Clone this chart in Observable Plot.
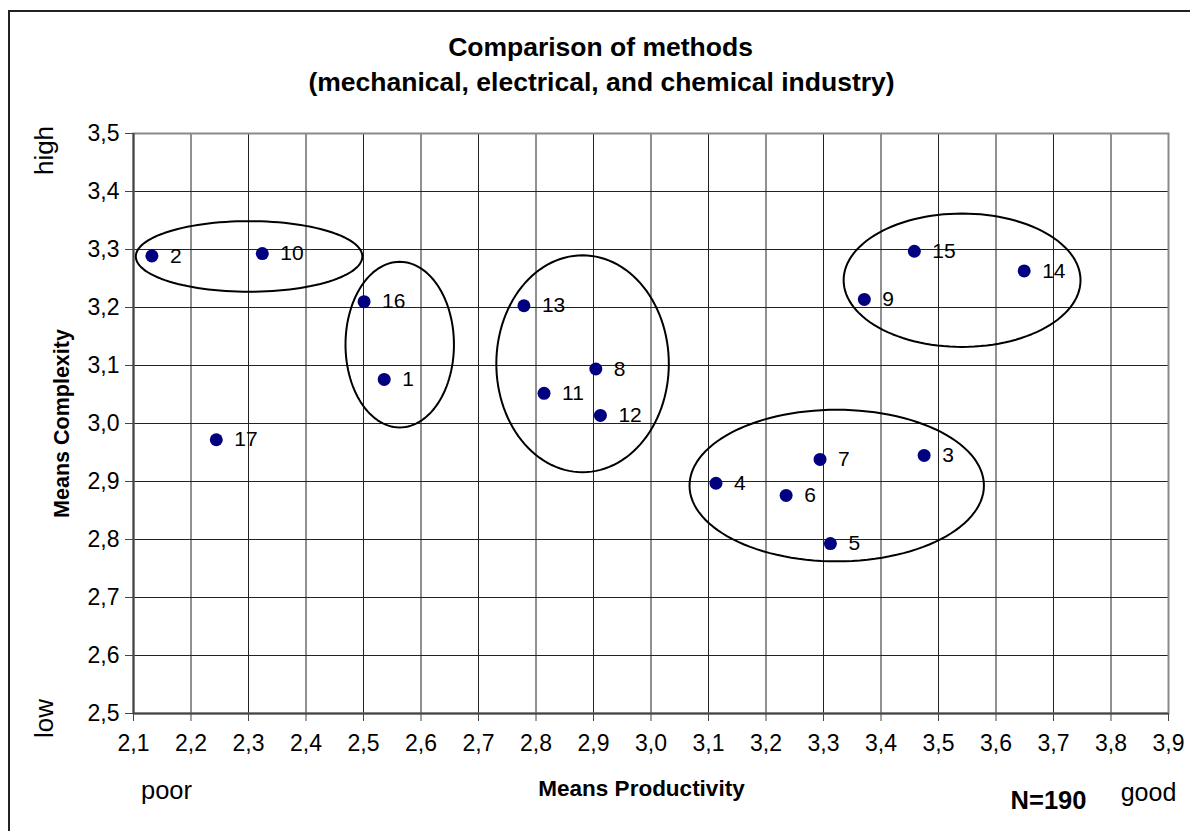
<!DOCTYPE html>
<html>
<head>
<meta charset="utf-8">
<script src="https://cdn.jsdelivr.net/npm/d3@7"></script>
<script src="https://cdn.jsdelivr.net/npm/@observablehq/plot@0.6"></script>
<style>
  html, body { margin: 0; padding: 0; background: #fff; }
  #wrap { position: relative; width: 1190px; height: 831px; overflow: hidden; }
  #border { position: absolute; left: 8px; top: 10px; width: 1200px; height: 840px;
            border-left: 2px solid #222; border-top: 2px solid #222; }
  #chart { position: absolute; left: 0; top: 0; }
  #chart g[aria-label="x-axis tick label"] text, #chart g[aria-label="y-axis tick label"] text { font-size: 23px !important; }
</style>
</head>
<body>
<div id="wrap"><div id="border"></div><div id="chart"></div></div>
<script>
// ---- data ----
const methods      = [1, 2, 3, 4, 5, 6, 7, 8, 9, 10, 11, 12, 13, 14, 15, 16, 17];
const productivity = [2.536, 2.132, 3.475, 3.113, 3.312, 3.235, 3.294, 2.904, 3.371, 2.324, 2.814, 2.912, 2.779, 3.649, 3.458, 2.501, 2.244];
const complexity   = [3.076, 3.289, 2.945, 2.897, 2.793, 2.876, 2.938, 3.094, 3.214, 3.293, 3.052, 3.014, 3.203, 3.263, 3.297, 3.210, 2.972];

// cluster ellipses (centre and half-axes in data units)
const clusterCx = [2.301, 2.563, 2.881, 3.541, 3.323];
const clusterCy = [3.288, 3.136, 3.103, 3.247, 2.893];
const clusterRx = [0.197, 0.0943, 0.150, 0.206, 0.256];
const clusterRy = [0.0609, 0.1428, 0.187, 0.115, 0.1307];

const xTicks = [2.1, 2.2, 2.3, 2.4, 2.5, 2.6, 2.7, 2.8, 2.9, 3.0, 3.1, 3.2, 3.3, 3.4, 3.5, 3.6, 3.7, 3.8, 3.9];
const yTicks = [2.5, 2.6, 2.7, 2.8, 2.9, 3.0, 3.1, 3.2, 3.3, 3.4, 3.5];

const titleLines = ["Comparison of methods", "(mechanical, electrical, and chemical industry)"];
const xTitle = "Means Productivity";
const yTitle = "Means Complexity";
const sampleNote = "N=190";

// ---- build tables ----
const points = methods.map((m, i) => ({id: m, x: productivity[i], y: complexity[i]}));
const ellipsePts = [];
clusterCx.forEach((cx, k) => {
  for (let j = 0; j < 120; j++) {
    const t = (j / 120) * 2 * Math.PI;
    ellipsePts.push({g: k, x: cx + clusterRx[k] * Math.cos(t), y: clusterCy[k] + clusterRy[k] * Math.sin(t)});
  }
});
const fmt = d => d.toFixed(1).replace(".", ",");
const font = "'Liberation Sans', Arial, sans-serif";
const ann = (txt, dx, dy, opts) => Plot.text([txt], Object.assign(
  {frameAnchor: "top-left", dx, dy, textAnchor: "middle", lineAnchor: "middle", fill: "#000"}, opts));

const chart = Plot.plot({
  width: 1190, height: 831,
  marginLeft: 133, marginRight: 22, marginTop: 133, marginBottom: 118,
  style: {fontFamily: font, fontSize: "22px", color: "#000", background: "transparent", overflow: "visible"},
  x: {domain: [2.1, 3.9], label: null},
  y: {domain: [2.5, 3.5], label: null},
  marks: [
    Plot.gridX(xTicks, {stroke: "#222", strokeOpacity: 1, strokeWidth: 1}),
    Plot.gridY(yTicks, {stroke: "#222", strokeOpacity: 1, strokeWidth: 1}),
    Plot.frame({stroke: "#8a8a8a", strokeWidth: 2}),
    Plot.ruleX([2.1], {stroke: "#444", strokeWidth: 2}),
    Plot.ruleY([2.5], {stroke: "#444", strokeWidth: 2}),
    Plot.axisX(xTicks, {tickSize: 8, tickPadding: 13, tickFormat: fmt, label: null, fontSize: 23, stroke: "#444"}),
    Plot.axisY(yTicks, {tickSize: 8, tickPadding: 6, tickFormat: fmt, label: null, fontSize: 23, stroke: "#444"}),
    Plot.line(ellipsePts, {x: "x", y: "y", z: "g", curve: "linear-closed", stroke: "#000", strokeWidth: 2}),
    Plot.dot(points, {x: "x", y: "y", r: 6.5, fill: "#000080", stroke: "none"}),
    Plot.text(points, {x: "x", y: "y", text: "id", dx: 18, textAnchor: "start", fontSize: 21, fill: "#000"}),
    // titles and annotations
    ann(titleLines[0], 467, -86, {fontSize: 26.5, fontWeight: "bold"}),
    ann(titleLines[1], 468, -51, {fontSize: 26.5, fontWeight: "bold"}),
    ann(yTitle, -71, 290, {rotate: -90, fontSize: 21.5, fontWeight: "bold"}),
    ann(xTitle, 508, 655, {fontSize: 22.5, fontWeight: "bold"}),
    ann("high", -89, 17, {rotate: -90, fontSize: 26}),
    ann("low", -89, 585, {rotate: -90, fontSize: 26}),
    ann("poor", 33, 657, {fontSize: 25.5}),
    ann("good", 1015, 659, {fontSize: 25}),
    ann(sampleNote, 915, 667, {fontSize: 25.5, fontWeight: "bold"})
  ]
});
document.getElementById("chart").append(chart);
</script>
</body>
</html>
